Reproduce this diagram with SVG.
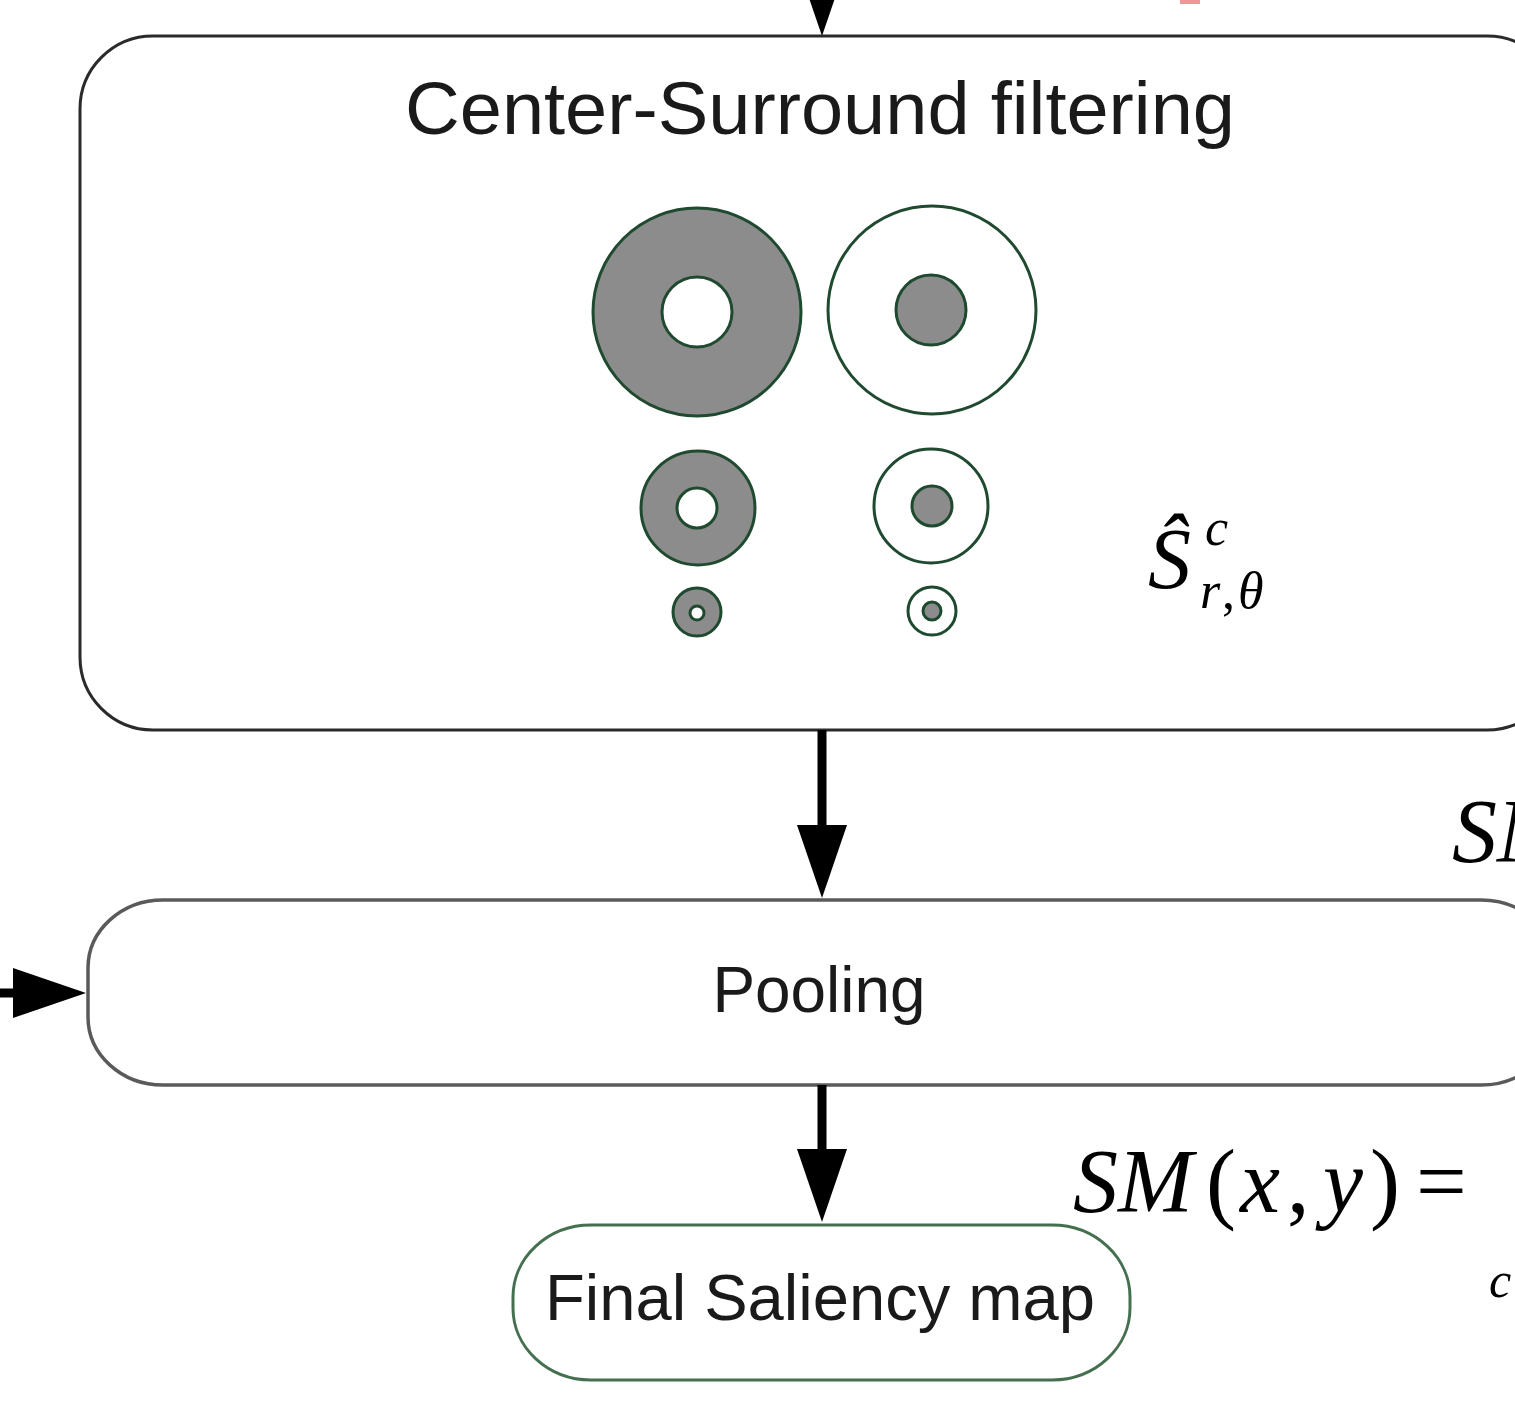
<svg xmlns="http://www.w3.org/2000/svg" width="1515" height="1403" viewBox="0 0 1515 1403">
  <style>
    .box { fill: #ffffff; stroke: #2a2a2a; stroke-width: 3; }
    .pool { fill: #ffffff; stroke: #5a5a5a; stroke-width: 3.5; }
    .final { fill: #ffffff; stroke: #44704f; stroke-width: 3; }
    .label { font-family: "Liberation Sans", Arial, sans-serif; fill: #1a1a1a; text-anchor: middle; }
    .math { font-family: "Liberation Serif", "Times New Roman", serif; fill: #000000; }
    .ring { stroke: #1f4a30; stroke-width: 3; }
    .grey { fill: #8c8c8c; }
    .hole { fill: #ffffff; }
    .wire { stroke: #000000; stroke-width: 9; fill: none; marker-end: url(#head); }
  </style>
  <defs>
    <marker id="head" markerUnits="userSpaceOnUse" markerWidth="74" markerHeight="50" refX="3" refY="25" orient="auto">
      <path d="M0,0 L73,25 L0,50 Z" fill="#000000"/>
    </marker>
  </defs>

  <rect width="1515" height="1403" fill="#ffffff"/>

  <!-- red mark running in from above -->
  <rect x="1180" y="0" width="20" height="4" fill="#e86a6a" opacity="0.7"/>

  <!-- center-surround stage -->
  <g id="center-surround">
    <rect class="box" x="80" y="36" width="1480" height="694" rx="73" ry="73"/>
    <text class="label" x="820" y="134" font-size="75" textLength="830" lengthAdjust="spacingAndGlyphs">Center-Surround filtering</text>

    <!-- off-center / on-center filters at three scales -->
    <g id="filter-large-off">
      <circle class="ring grey" cx="697" cy="312" r="104"/>
      <circle class="ring hole" cx="697" cy="312" r="35"/>
    </g>
    <g id="filter-large-on">
      <circle class="ring hole" cx="932" cy="310" r="104"/>
      <circle class="ring grey" cx="931" cy="310" r="35"/>
    </g>
    <g id="filter-mid-off">
      <circle class="ring grey" cx="698" cy="508" r="57"/>
      <circle class="ring hole" cx="697" cy="508" r="20"/>
    </g>
    <g id="filter-mid-on">
      <circle class="ring hole" cx="931" cy="506" r="57"/>
      <circle class="ring grey" cx="932" cy="506" r="20"/>
    </g>
    <g id="filter-small-off">
      <circle class="ring grey" cx="697" cy="612" r="24"/>
      <circle class="ring hole" cx="697" cy="613" r="7"/>
    </g>
    <g id="filter-small-on">
      <circle class="ring hole" cx="932" cy="611" r="24"/>
      <circle class="ring grey" cx="932" cy="611" r="9"/>
    </g>

    <text class="math" font-style="italic">
      <tspan x="1148" y="588" font-size="86">Ŝ</tspan>
      <tspan x="1205" y="545" font-size="52">c</tspan>
      <tspan x="1200" y="608" font-size="52">r</tspan>
      <tspan x="1222" y="608" font-size="52" font-style="normal">,</tspan>
      <tspan x="1238" y="608" font-size="52">θ</tspan>
    </text>
  </g>

  <!-- pooling stage -->
  <g id="pooling">
    <rect class="pool" x="88" y="900" width="1468" height="185" rx="75" ry="68"/>
    <text class="label" x="819" y="1012" font-size="64" textLength="213" lengthAdjust="spacingAndGlyphs">Pooling</text>
  </g>

  <!-- output -->
  <g id="final-saliency-map">
    <rect class="final" x="513" y="1225" width="617" height="155" rx="78" ry="72"/>
    <text class="label" x="820" y="1320" font-size="64" textLength="550" lengthAdjust="spacingAndGlyphs">Final Saliency map</text>
  </g>

  <!-- formulas on the right -->
  <g id="formulas">
    <text class="math" x="1452" y="862" font-size="90" font-style="italic">SM</text>
    <text class="math" y="1212" font-size="90">
      <tspan x="1073" font-style="italic">SM</tspan>
      <tspan x="1206">(</tspan>
      <tspan x="1240" font-style="italic">x</tspan>
      <tspan x="1287">,</tspan>
      <tspan x="1323" font-style="italic">y</tspan>
      <tspan x="1370">)</tspan>
      <tspan x="1416">=</tspan>
    </text>
    <text class="math" x="1489" y="1297" font-size="50" font-style="italic">c</text>
  </g>

  <!-- connectors -->
  <g id="connectors">
    <line class="wire" x1="822" y1="-90" x2="822" y2="-34"/>
    <line class="wire" x1="822" y1="730" x2="822" y2="828"/>
    <line class="wire" x1="822" y1="1085" x2="822" y2="1152"/>
    <line class="wire" x1="-30" y1="993" x2="16" y2="993"/>
  </g>
</svg>
